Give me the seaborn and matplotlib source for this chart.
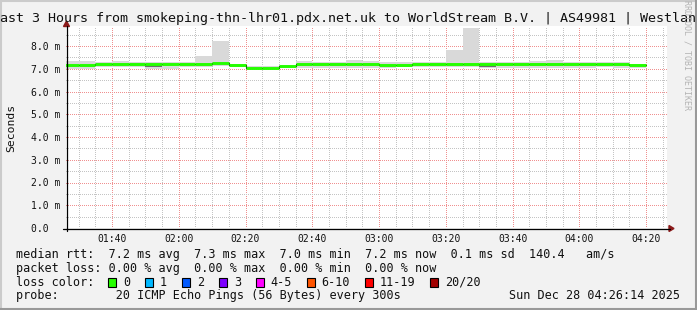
import matplotlib
matplotlib.use("Agg")
import numpy as np
import pandas as pd
import matplotlib.pyplot as plt
import seaborn as sns
from matplotlib.lines import Line2D
from matplotlib.patches import Polygon, Rectangle

# ---------------- data ----------------
step_times = ["01:25", "01:30", "01:35", "01:40", "01:45", "01:50", "01:55",
              "02:00", "02:05", "02:10", "02:15", "02:20", "02:25", "02:30",
              "02:35", "02:40", "02:45", "02:50", "02:55", "03:00", "03:05",
              "03:10", "03:15", "03:20", "03:25", "03:30", "03:35", "03:40",
              "03:45", "03:50", "03:55", "04:00", "04:05", "04:10", "04:15"]
end_time = "04:20"

median_ms = [7.17, 7.17, 7.22, 7.22, 7.22, 7.22, 7.22, 7.22, 7.22, 7.24,
             7.18, 7.05, 7.05, 7.11, 7.23, 7.21, 7.21, 7.21, 7.21, 7.18,
             7.18, 7.20, 7.20, 7.20, 7.21, 7.20, 7.20, 7.20, 7.21, 7.21,
             7.22, 7.22, 7.21, 7.20, 7.18]
smoke_lo_ms = [6.99, 6.99, 7.07, 7.07, 7.07, 6.99, 6.99, 7.07, 7.07, 7.10,
               7.07, 7.00, 7.00, 7.03, 7.03, 7.03, 7.03, 7.03, 7.03, 7.03,
               7.07, 7.07, 7.07, 7.07, 7.07, 7.03, 7.03, 7.03, 7.03, 7.03,
               7.03, 7.03, 7.07, 7.03, 7.03]
smoke_hi_ms = [7.32, 7.32, 7.29, 7.36, 7.29, 7.29, 7.29, 7.29, 7.57, 8.22,
               7.22, 7.10, 7.12, 7.14, 7.35, 7.29, 7.29, 7.39, 7.35, 7.29,
               7.29, 7.29, 7.29, 7.83, 8.80, 7.29, 7.29, 7.29, 7.35, 7.39,
               7.29, 7.29, 7.29, 7.29, 7.20]
dense_lo_ms = [None, None, None, None, None, 7.08, 7.08, None, None, None,
               None, None, None, None, None, 7.04, None, None, None, None,
               7.14, None, None, None, None, 7.06, 7.06, None, None, None,
               None, None, None, 7.10, None]
dense_hi_ms = [None, None, None, None, None, 7.16, 7.16, None, None, None,
               None, None, None, None, None, 7.16, None, None, None, None,
               7.22, None, None, None, None, 7.17, 7.17, None, None, None,
               None, None, None, 7.20, None]

y_ticks = [0, 1, 2, 3, 4, 5, 6, 7, 8]
y_tick_labels = ["0.0  ", "1.0 m", "2.0 m", "3.0 m", "4.0 m", "5.0 m",
                 "6.0 m", "7.0 m", "8.0 m"]
x_tick_labels = ["01:40", "02:00", "02:20", "02:40", "03:00", "03:20",
                 "03:40", "04:00", "04:20"]
view_start = "01:26:14"
view_end = "04:26:14"

title = "ast 3 Hours from smokeping-thn-lhr01.pdx.net.uk to WorldStream B.V. | AS49981 | Westlan"
legend_median = "median rtt:  7.2 ms avg  7.3 ms max  7.0 ms min  7.2 ms now  0.1 ms sd  140.4   am/s"
legend_loss = "packet loss: 0.00 % avg  0.00 % max  0.00 % min  0.00 % now"
loss_labels = ["0", "1", "2", "3", "4-5", "6-10", "11-19", "20/20"]
loss_colors = ["#26ff00", "#00b8ff", "#0059ff", "#7e00ff", "#ff00ff",
               "#ff5500", "#ff0000", "#a10000"]
probe_text = "probe:        20 ICMP Echo Pings (56 Bytes) every 300s"
stamp_text = "Sun Dec 28 04:26:14 2025"
watermark = "RRDTOOL / TOBI OETIKER"


def to_min(s):
    parts = [int(p) for p in s.split(":")]
    m = parts[0] * 60 + parts[1]
    if len(parts) == 3:
        m += parts[2] / 60.0
    return m


# ---------------- figure ----------------
sns.set_style("white")
plt.rcParams["font.family"] = ["DejaVu Sans Mono"]

W, H = 697, 310
fig = plt.figure(figsize=(W / 100, H / 100), dpi=100, facecolor="#F2F2F2")


def fx(x):
    return x / W


def fy(y):
    return 1 - y / H


px_per_ms = 22.75
ax_left, ax_right, ax_top, ax_bottom = 66, 667, 26, 228
ax = fig.add_axes([fx(ax_left), fy(ax_bottom), (ax_right - ax_left) / W,
                   (ax_bottom - ax_top) / H])
ax.set_facecolor("white")
ax.set_xlim(to_min(view_start), to_min(view_end))
ax.set_ylim(0, (ax_bottom - ax_top) / px_per_ms)

starts = np.array([to_min(t) for t in step_times])
ends = np.append(starts[1:], to_min(end_time))
edges = np.append(starts, to_min(end_time))


def ext(v):
    a = np.array([np.nan if x is None else x for x in v], dtype=float)
    return np.append(a, a[-1])


# smoke
ax.fill_between(edges, ext(smoke_lo_ms), ext(smoke_hi_ms), step="post",
                color="#d9d9d9", lw=0, zorder=2)
ax.fill_between(edges, ext(dense_lo_ms), ext(dense_hi_ms), step="post",
                color="#6e6e6e", lw=0, zorder=3)

# median (black step + loss-colored segments)
df = pd.DataFrame({"t": edges, "median": ext(median_ms)})
sns.lineplot(data=df, x="t", y="median", drawstyle="steps-post",
             color="black", lw=0.8, ax=ax, zorder=4)
ax.hlines(median_ms, starts, ends, color=loss_colors[0], lw=2.1, zorder=5)

# grid (1px dotted lines)
major_x = [to_min(t) for t in x_tick_labels]
minor_x = np.arange(90, 267, 5)
ax.set_xticks(major_x)
ax.set_xticklabels(x_tick_labels)
ax.set_xticks(minor_x, minor=True)
ax.set_yticks(y_ticks)
ax.set_yticklabels(y_tick_labels)
ax.set_yticks(np.arange(0.5, 9, 1.0), minor=True)
ax.grid(which="minor", color="#c4c4c4", ls=(0, (1, 2)), lw=0.72, zorder=1,
        antialiased=False)
ax.grid(which="major", color="#f09090", ls=(0, (1, 2)), lw=0.72, zorder=1,
        antialiased=False)
ax.set_axisbelow(True)
ax.tick_params(axis="x", which="both", length=0, pad=4.2, labelsize=7,
               labelcolor="#111111")
ax.tick_params(axis="y", which="major", length=2.2, width=0.8, pad=2.2,
               labelsize=7, color="black", labelcolor="#111111")
ax.tick_params(axis="y", which="minor", length=0)
for s in ax.spines.values():
    s.set_visible(False)
ax.set_xlabel("")
ax.set_ylabel("")

# axis lines with arrows
fig.add_artist(Line2D([fx(63), fx(670)], [fy(228.5), fy(228.5)], color="black",
                      lw=0.9, transform=fig.transFigure))
fig.add_artist(Line2D([fx(66.5), fx(66.5)], [fy(231), fy(26)], color="black",
                      lw=0.9, transform=fig.transFigure))
fig.add_artist(Polygon([[fx(674), fy(228.5)], [fx(669), fy(225.5)],
                        [fx(669), fy(231.5)]], closed=True, color="#8b1a1a",
                       transform=fig.transFigure))
fig.add_artist(Polygon([[fx(66.5), fy(21)], [fx(63.5), fy(26.5)],
                        [fx(69.5), fy(26.5)]], closed=True, color="#8b1a1a",
                       transform=fig.transFigure))

# texts
fig.text(fx(0), fy(21.7), title, fontsize=9.6, va="baseline", ha="left",
         color="#111111")
fig.text(fx(11), fy(128), "Seconds", fontsize=8.2, rotation=90, va="center",
         ha="center", color="#111111")
fig.text(fx(687.5), fy(0), watermark, fontsize=6, rotation=270, va="top",
         ha="center", color="#b4b4b4")

base = [257.7, 271.7, 285.7, 299.3]
fig.text(fx(16), fy(base[0]), legend_median, fontsize=8.5, va="baseline",
         color="#111111")
fig.text(fx(16), fy(base[1]), legend_loss, fontsize=8.5, va="baseline",
         color="#111111")
fig.text(fx(16), fy(base[2]), "loss color:", fontsize=8.5, va="baseline",
         color="#111111")
xb = 108.3
for lab, col in zip(loss_labels, loss_colors):
    fig.add_artist(Rectangle((fx(xb), fy(286.5)), 8 / W, 8.5 / H,
                             facecolor=col, edgecolor="black", lw=0.8,
                             transform=fig.transFigure))
    fig.text(fx(xb + 15), fy(base[2]), lab, fontsize=8.5, va="baseline",
             color="#111111")
    xb += 15 + len(lab) * 7.1 + 14.7
fig.text(fx(16), fy(base[3]), probe_text, fontsize=8.5, va="baseline",
         color="#111111")
fig.text(fx(680), fy(base[3]), stamp_text, fontsize=8.5, va="baseline",
         ha="right", color="#111111")

# 3D border
fig.add_artist(Line2D([0, 1], [fy(0.5), fy(0.5)], color="#cbcbcb", lw=1.5,
                      transform=fig.transFigure))
fig.add_artist(Line2D([fx(0.5), fx(0.5)], [0, 1], color="#cbcbcb", lw=1.5,
                      transform=fig.transFigure))
fig.add_artist(Line2D([0, 1], [fy(309), fy(309)], color="#999999", lw=1.5,
                      transform=fig.transFigure))
fig.add_artist(Line2D([fx(696), fx(696)], [0, 1], color="#999999", lw=1.5,
                      transform=fig.transFigure))

fig.savefig("out.png", dpi=100, facecolor=fig.get_facecolor())
